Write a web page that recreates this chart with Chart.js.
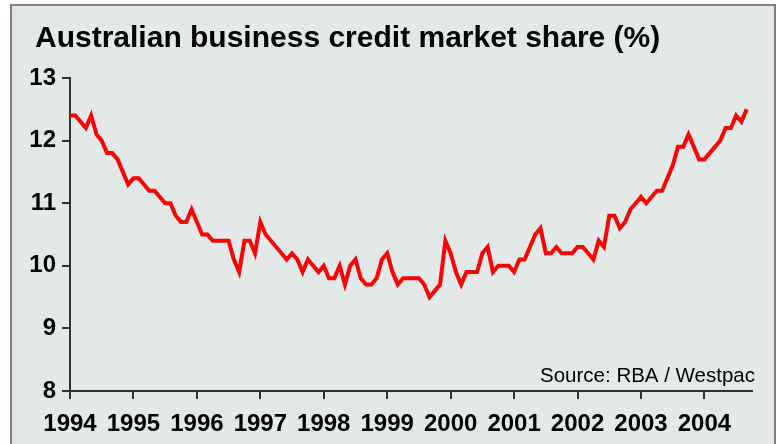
<!DOCTYPE html>
<html>
<head>
<meta charset="utf-8">
<script src="https://cdn.jsdelivr.net/npm/chart.js@4.4.1/dist/chart.umd.min.js"></script>
<style>
  html, body { margin: 0; padding: 0; background: #fff; }
</style>
</head>
<body>
<canvas id="chart" width="778" height="444"></canvas>
<script>
// Monthly business credit market share, Jan 1994 - Sep 2004 (%)
const years = ['1994', '1995', '1996', '1997', '1998', '1999', '2000', '2001', '2002', '2003', '2004'];
const share = [
  12.4, 12.4, 12.3, 12.2, 12.4, 12.1, 12.0, 11.8, 11.8, 11.7, 11.5, 11.3,
  11.4, 11.4, 11.3, 11.2, 11.2, 11.1, 11.0, 11.0, 10.8, 10.7, 10.7, 10.9,
  10.7, 10.5, 10.5, 10.4, 10.4, 10.4, 10.4, 10.1, 9.9, 10.4, 10.4, 10.2,
  10.7, 10.5, 10.4, 10.3, 10.2, 10.1, 10.2, 10.1, 9.9, 10.1, 10.0, 9.9,
  10.0, 9.8, 9.8, 10.0, 9.7, 10.0, 10.1, 9.8, 9.7, 9.7, 9.8, 10.1,
  10.2, 9.9, 9.7, 9.8, 9.8, 9.8, 9.8, 9.7, 9.5, 9.6, 9.7, 10.4,
  10.2, 9.9, 9.7, 9.9, 9.9, 9.9, 10.2, 10.3, 9.9, 10.0, 10.0, 10.0,
  9.9, 10.1, 10.1, 10.3, 10.5, 10.6, 10.2, 10.2, 10.3, 10.2, 10.2, 10.2,
  10.3, 10.3, 10.2, 10.1, 10.4, 10.3, 10.8, 10.8, 10.6, 10.7, 10.9, 11.0,
  11.1, 11.0, 11.1, 11.2, 11.2, 11.4, 11.6, 11.9, 11.9, 12.1, 11.9, 11.7,
  11.7, 11.8, 11.9, 12.0, 12.2, 12.2, 12.4, 12.3, 12.5
];
const yTicks = [8, 9, 10, 11, 12, 13];
const titleText = 'Australian business credit market share (%)';
const sourceText = 'Source: RBA / Westpac';

const FONT = '"Liberation Sans", Arial, sans-serif';
const AXIS = '#333333';

// grey panel with a thin frame behind the whole chart
const panel = {
  id: 'panel',
  beforeDraw(chart) {
    const ctx = chart.ctx;
    ctx.save();
    ctx.fillStyle = '#ffffff';
    ctx.fillRect(0, 0, chart.width, chart.height);
    ctx.fillStyle = '#e3e8e8';
    ctx.fillRect(11, 5, 764, 450);
    ctx.strokeStyle = '#808080';
    ctx.lineWidth = 2;
    ctx.strokeRect(11, 5, 764, 450);
    ctx.restore();
  }
};

// heading at top left and source note in the lower right of the plot
const captions = {
  id: 'captions',
  afterDraw(chart) {
    const ctx = chart.ctx;
    ctx.save();
    ctx.fillStyle = '#000';
    ctx.textBaseline = 'alphabetic';
    ctx.textAlign = 'left';
    ctx.font = 'bold 30px ' + FONT;
    ctx.fillText(titleText, 35, 47);
    ctx.textAlign = 'right';
    ctx.font = '20.5px ' + FONT;
    ctx.fillText(sourceText, chart.chartArea.right + 3, 382);
    ctx.restore();
  }
};

new Chart(document.getElementById('chart'), {
  type: 'line',
  data: {
    datasets: [{
      label: 'Market share',
      data: share.map((v, i) => ({ x: i, y: v })),
      borderColor: '#ff0000',
      borderWidth: 4,
      pointRadius: 0,
      tension: 0,
      fill: false
    }]
  },
  options: {
    responsive: false,
    animation: false,
    layout: { padding: { top: 78, left: 10, right: 26, bottom: 0 } },
    plugins: {
      legend: { display: false },
      tooltip: { enabled: false },
      title: { display: false }
    },
    scales: {
      x: {
        type: 'linear',
        min: 0,
        max: 129,
        afterFit(scale) { scale.height = 53; },
        afterBuildTicks(scale) {
          scale.ticks = years.map((_, i) => ({ value: i * 12 }));
        },
        ticks: {
          autoSkip: false,
          maxRotation: 0,
          padding: 11,
          color: '#000',
          font: { family: FONT, size: 24, weight: 'bold' },
          callback: (v) => years[v / 12]
        },
        grid: { drawOnChartArea: false, tickLength: 8, color: AXIS, lineWidth: 2 },
        border: { color: AXIS, width: 2 }
      },
      y: {
        min: 8,
        max: 13,
        afterFit(scale) { scale.width = 60; },
        afterBuildTicks(scale) {
          scale.ticks = yTicks.map(v => ({ value: v }));
        },
        ticks: {
          padding: 6,
          color: '#000',
          font: { family: FONT, size: 24, weight: 'bold' }
        },
        grid: { drawOnChartArea: false, tickLength: 8, color: AXIS, lineWidth: 2 },
        border: { color: AXIS, width: 2 }
      }
    }
  },
  plugins: [panel, captions]
});
</script>
</body>
</html>
